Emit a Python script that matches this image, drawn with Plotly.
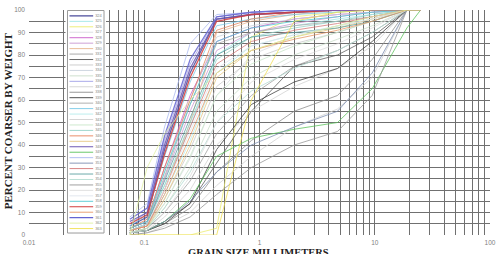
import plotly.graph_objects as go

# ---------------- data ----------------
sieve_mm = [0.075, 0.106, 0.15, 0.25, 0.425, 0.85, 2.0, 4.75, 9.5, 19.0, 25.0]
sample_ids = [str(n) for n in range(324, 364)]

pct_324 = [4, 8, 38, 72, 96, 98, 99, 100, 100, 100, 100]
pct_325 = [3, 6, 22, 48, 80, 90, 93, 96, 98, 100, 100]
pct_326 = [0, 0, 0, 0, 3, 88, 97, 99, 100, 100, 100]
pct_327 = [2, 4, 14, 34, 62, 80, 88, 93, 97, 100, 100]
pct_328 = [3, 6, 30, 62, 86, 92, 96, 98, 99, 100, 100]
pct_329 = [2, 5, 25, 55, 82, 90, 94, 97, 99, 100, 100]
pct_330 = [2, 4, 20, 50, 90, 95, 98, 100, 100, 100, 100]
pct_331 = [1, 3, 10, 24, 45, 62, 75, 82, 90, 100, 100]
pct_332 = [1, 2, 6, 14, 32, 55, 75, 80, 88, 100, 100]
pct_333 = [2, 4, 16, 38, 66, 78, 85, 90, 95, 100, 100]
pct_334 = [3, 7, 28, 60, 88, 93, 96, 98, 99, 100, 100]
pct_335 = [1, 3, 12, 30, 55, 70, 80, 87, 93, 100, 100]
pct_336 = [5, 10, 42, 76, 97, 99, 100, 100, 100, 100, 100]
pct_337 = [1, 2, 8, 20, 40, 55, 66, 74, 84, 100, 100]
pct_338 = [1, 2, 5, 12, 28, 42, 55, 62, 78, 100, 100]
pct_339 = [1, 2, 5, 14, 38, 58, 68, 74, 86, 100, 100]
pct_340 = [3, 6, 26, 58, 85, 90, 93, 95, 97, 100, 100]
pct_341 = [4, 9, 35, 68, 93, 96, 98, 99, 100, 100, 100]
pct_342 = [2, 5, 18, 42, 72, 84, 89, 93, 96, 100, 100]
pct_343 = [0, 1, 4, 10, 22, 35, 48, 56, 70, 100, 100]
pct_344 = [1, 3, 14, 35, 62, 76, 84, 90, 95, 100, 100]
pct_345 = [2, 5, 22, 50, 78, 88, 92, 95, 98, 100, 100]
pct_346 = [3, 7, 30, 60, 91, 96, 99, 100, 100, 100, 100]
pct_347 = [1, 3, 16, 40, 70, 82, 88, 92, 96, 100, 100]
pct_348 = [6, 10, 40, 74, 96, 98, 99, 100, 100, 100, 100]
pct_349 = [1, 2, 6, 16, 35, 43, 47, 50, 65, 92, 100]
pct_350 = [8, 14, 48, 85, 98, 99, 100, 100, 100, 100, 100]
pct_351 = [1, 2, 6, 15, 28, 40, 48, 55, 72, 100, 100]
pct_352 = [2, 4, 20, 48, 76, 86, 91, 94, 97, 100, 100]
pct_353 = [2, 5, 24, 52, 80, 88, 90, 92, 95, 100, 100]
pct_354 = [1, 3, 12, 28, 50, 64, 74, 82, 90, 100, 100]
pct_355 = [0, 1, 3, 8, 18, 30, 40, 46, 62, 100, 100]
pct_356 = [1, 2, 10, 26, 50, 68, 78, 85, 92, 100, 100]
pct_357 = [2, 5, 20, 46, 74, 84, 89, 93, 96, 100, 100]
pct_358 = [3, 6, 28, 58, 86, 92, 95, 97, 99, 100, 100]
pct_359 = [5, 9, 36, 70, 95, 98, 99, 100, 100, 100, 100]
pct_360 = [2, 4, 18, 44, 72, 82, 87, 91, 95, 100, 100]
pct_361 = [7, 12, 44, 78, 97, 99, 100, 100, 100, 100, 100]
pct_362 = [0, 30, 45, 60, 72, 82, 88, 93, 97, 100, 100]
pct_363 = [0, 0, 0, 0, 0, 60, 95, 99, 100, 100, 100]

percent_coarser = [
    pct_324, pct_325, pct_326, pct_327, pct_328, pct_329, pct_330, pct_331,
    pct_332, pct_333, pct_334, pct_335, pct_336, pct_337, pct_338, pct_339,
    pct_340, pct_341, pct_342, pct_343, pct_344, pct_345, pct_346, pct_347,
    pct_348, pct_349, pct_350, pct_351, pct_352, pct_353, pct_354, pct_355,
    pct_356, pct_357, pct_358, pct_359, pct_360, pct_361, pct_362, pct_363,
]

decades = [0.01, 0.1, 1, 10]
x_tick_vals = [m * d for d in decades for m in range(1, 10)] + [100]
x_tick_text = [("%g" % (m * d)) if m == 1 else "" for d in decades for m in range(1, 10)] + ["100"]
y_tick_vals = list(range(0, 105, 5))
y_tick_text = [str(v) if v % 10 == 0 else "" for v in y_tick_vals]

# ---------------- styles ----------------
colors = [
    "#4b4b9b", "#9ee6e6", "#ecec6c", "#d8dce0", "#c85ac8", "#c896d2", "#e6b48c", "#a0a0a0",
    "#5a5a5a", "#c8c8c8", "#c8d2dc", "#c8dcc8", "#a0a0e6", "#d2d2d2", "#8c8c8c", "#3c3c3c",
    "#a8a8a8", "#78c8e6", "#b4ecec", "#d0d0d0", "#c8e6c8", "#96d2c8", "#e6825a", "#e6c882",
    "#6e5ab4", "#5ac35a", "#aab9f0", "#7a8cb0", "#d27878", "#5aa0a0", "#b4dcd2", "#969696",
    "#dcdcdc", "#e0e4ec", "#50c8d2", "#d23c3c", "#e69664", "#6464d2", "#e1f0a0", "#f0e050",
]
bold_ids = {"324", "348", "359", "361"}

W, H = 502, 254
ML, MR, MT, MB = 29, 6, 6, 19
PW, PH = W - ML - MR, H - MT - MB

fig = go.Figure()

for sid, pct, col in zip(sample_ids, percent_coarser, colors):
    fig.add_trace(go.Scatter(
        x=sieve_mm, y=pct, mode="lines", name=sid,
        line=dict(color=col, width=1.3 if sid in bold_ids else 0.9),
        opacity=0.85, showlegend=False, hoverinfo="skip"))

# ---- custom compact legend on a hidden overlay axis (units = pixels) ----
lg_x0, lg_x1 = 66, 107
box_l, box_r, box_t, box_b = 68, 105, 6.5, 233
row0, row_step = 12, 5.55
fig.add_trace(go.Scatter(
    x=[box_l, box_r, box_r, box_l, box_l], y=[box_t, box_t, box_b, box_b, box_t],
    mode="lines", fill="toself", fillcolor="white",
    line=dict(color="#9a9a9a", width=1), xaxis="x2", yaxis="y2",
    showlegend=False, hoverinfo="skip"))
for i, (sid, col) in enumerate(zip(sample_ids, colors)):
    yy = row0 + row_step * i
    fig.add_trace(go.Scatter(
        x=[70, 94], y=[yy, yy], mode="lines",
        line=dict(color=col, width=1.1 if sid in bold_ids else 0.9),
        xaxis="x2", yaxis="y2", showlegend=False, hoverinfo="skip"))
fig.add_trace(go.Scatter(
    x=[96] * len(sample_ids), y=[row0 + row_step * i for i in range(len(sample_ids))],
    mode="text", text=sample_ids, textposition="middle right",
    textfont=dict(size=4, color="#888", family="Liberation Sans"),
    xaxis="x2", yaxis="y2", showlegend=False, hoverinfo="skip", cliponaxis=False))

tickfont = dict(family="Liberation Sans", size=6.5, color="#808080")
fig.update_layout(
    width=W, height=H,
    margin=dict(l=ML, r=MR, t=MT, b=MB, pad=0),
    paper_bgcolor="white", plot_bgcolor="white",
    showlegend=False,
    xaxis=dict(type="log", range=[-2, 2], tickmode="array",
               tickvals=x_tick_vals, ticktext=x_tick_text,
               showgrid=True, gridcolor="#707070", gridwidth=1,
               zeroline=False, showline=False, ticks="",
               ticklabelstandoff=2, tickfont=tickfont),
    yaxis=dict(range=[0, 100], tickmode="array",
               tickvals=y_tick_vals, ticktext=y_tick_text,
               showgrid=True, gridcolor="#707070", gridwidth=1,
               zeroline=False, showline=False, ticks="",
               ticklabelstandoff=3, tickfont=tickfont),
    xaxis2=dict(domain=[(lg_x0 - ML) / PW, (lg_x1 - ML) / PW], anchor="y2",
                range=[lg_x0, lg_x1], visible=False, fixedrange=True),
    yaxis2=dict(domain=[0, 1], anchor="x2", range=[MT + PH, MT],
                visible=False, fixedrange=True),
    annotations=[
        dict(text="<b>PERCENT COARSER BY WEIGHT</b>", xref="paper", yref="paper",
             x=(8 - ML) / PW, y=(MT + PH - 119) / PH, xanchor="center", yanchor="middle",
             textangle=-90, showarrow=False,
             font=dict(family="Liberation Serif", size=11, color="#222")),
        dict(text="<b>GRAIN SIZE MILLIMETERS</b>", xref="paper", yref="paper",
             x=(261 - ML) / PW, y=(MT + PH - 245) / PH, xanchor="center", yanchor="top",
             showarrow=False,
             font=dict(family="Liberation Serif", size=10.5, color="#222")),
    ],
)

fig.write_html("out.html")
